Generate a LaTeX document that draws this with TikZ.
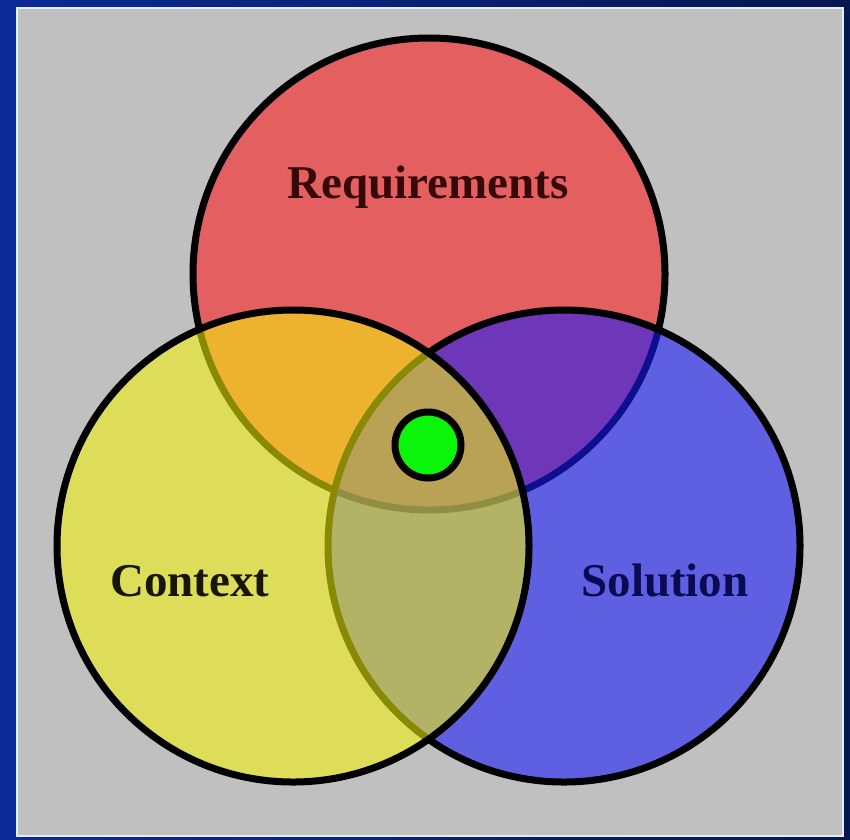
\documentclass[tikz,border=0pt]{standalone}
\usepackage{fontspec}
\setmainfont{Liberation Serif}
\begin{document}
\definecolor{frameL}{RGB}{12,42,150}
\definecolor{frameR}{RGB}{6,22,80}
\definecolor{panel}{RGB}{192,192,192}
\definecolor{panelEdge}{RGB}{225,238,242}
\definecolor{reqFill}{RGB}{228,96,96}
\definecolor{solFill}{RGB}{25,25,249}
\definecolor{ctxFill}{RGB}{245,245,10}
\definecolor{reqText}{RGB}{55,8,8}
\definecolor{ctxText}{RGB}{22,22,4}
\definecolor{solText}{RGB}{10,10,85}
\definecolor{dot}{RGB}{10,245,10}
\begin{tikzpicture}[x=1pt,y=-1pt,
  set/.style={line width=7pt},
  lbl/.style={font=\fontsize{47}{50}\selectfont\bfseries, anchor=base, inner sep=0pt}]
\useasboundingbox (0,0) rectangle (850,839);
% frame and panel
\shade[left color=frameL, right color=frameR] (0,0) rectangle (850,839);
\fill[panel, draw=panelEdge, line width=2.5pt] (17,8) rectangle (843,836);
% the three sets; each translucent fill tints the outlines below it
\draw[set, fill=reqFill] (429,274) circle[radius=236];
\draw[set, fill=solFill, fill opacity=0.58, draw opacity=1] (564,546) circle[radius=236];
\draw[set, fill=ctxFill, fill opacity=0.56, draw opacity=1] (293,546) circle[radius=236];
% labels
\node[lbl, text=reqText] (req) at (428,198) {Requirements};
\node[lbl, text=ctxText] (ctx) at (190,596) {Context};
\node[lbl, text=solText] (sol) at (665,596) {Solution};
% intersection marker
\draw[line width=7pt, fill=dot] (428,445) circle[radius=33] node (core) {};
\end{tikzpicture}
\end{document}
